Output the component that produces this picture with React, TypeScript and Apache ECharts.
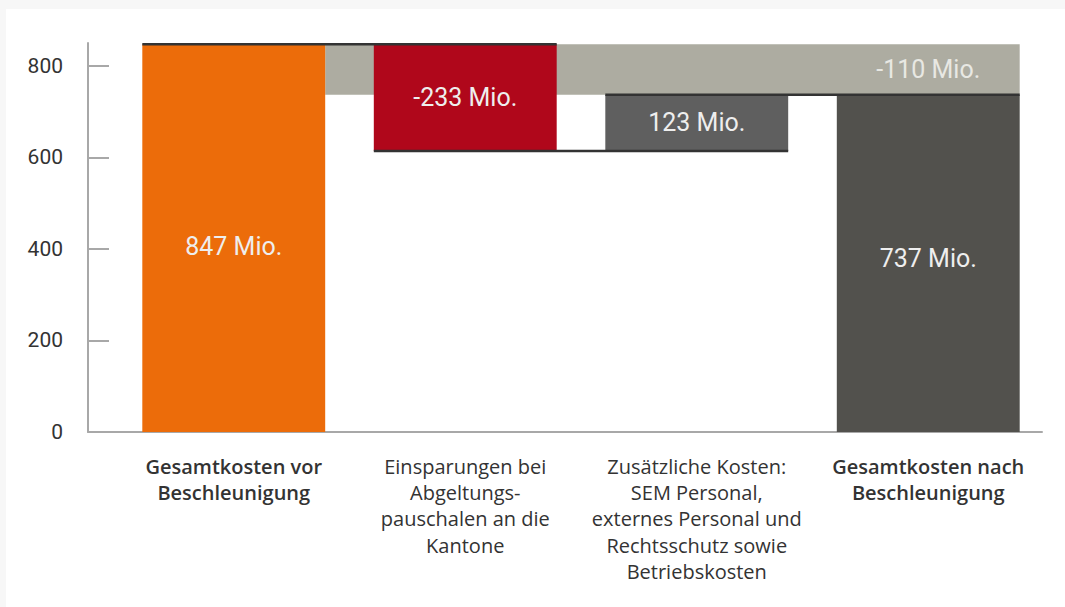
import React, { useEffect, useRef } from "react";
import * as echarts from "echarts";

const categories = [
  "Gesamtkosten vor\nBeschleunigung",
  "Einsparungen bei\nAbgeltungs-\npauschalen an die\nKantone",
  "Zusätzliche Kosten:\nSEM Personal,\nexternes Personal und\nRechtsschutz sowie\nBetriebskosten",
  "Gesamtkosten nach\nBeschleunigung",
];
const boldCategories = [true, false, false, true];
const kinds = ["total", "change", "change", "total"];
const values = [847, -233, 123, 737];
const totalChange = -110;
const barColors = ["#ec6c0a", "#b0071b", "#5f5f5f", "#52514d"];
const labelOffsets = [[0, 8], [0, 0], [0, 0], [0, -5]];
const yTicks = [0, 200, 400, 600, 800];

const FONT = "Roboto, 'DejaVu Sans', sans-serif";
const CAT_FONT = "'Open Sans', Roboto, sans-serif";

export default function App() {
  const ref = useRef<HTMLDivElement>(null);

  useEffect(() => {
    if (!ref.current) return;
    const chart = echarts.init(ref.current, null, { renderer: "svg" });

    const base: number[] = [];
    const visible: number[] = [];
    const levels: number[] = [];
    let running = 0;
    values.forEach((v, i) => {
      if (kinds[i] === "total") {
        base.push(0);
        visible.push(v);
        running = v;
      } else {
        const next = running + v;
        base.push(Math.min(running, next));
        visible.push(Math.abs(v));
        running = next;
      }
      levels.push(running);
    });

    const barRatio = 0.79;

    const option: any = {
      animation: false,
      textStyle: { fontFamily: FONT },
      grid: [
        { left: 88, right: 23, top: 43, bottom: 175 },
        { left: 118, right: 21, top: 43, bottom: 175 },
      ],
      xAxis: [
        {
          type: "value",
          gridIndex: 0,
          min: 0,
          max: 1,
          axisLine: { show: true, lineStyle: { color: "#a8a8a8", width: 2 } },
          axisTick: { show: false },
          axisLabel: { show: false },
          splitLine: { show: false },
        },
        {
          type: "category",
          gridIndex: 1,
          data: categories.map((c, i) => ({
            value: c,
            textStyle: { fontWeight: boldCategories[i] ? 600 : "normal" },
          })),
          axisLine: { show: false },
          axisTick: { show: false },
          axisLabel: {
            interval: 0,
            margin: 21,
            fontSize: 20,
            lineHeight: 26.3,
            color: "#333333",
            fontFamily: CAT_FONT,
          },
        },
      ],
      yAxis: [
        {
          type: "value",
          gridIndex: 0,
          min: 0,
          max: 850,
          interval: 200,
          axisLine: { show: true, lineStyle: { color: "#a8a8a8", width: 2 } },
          axisTick: {
            show: true,
            inside: true,
            length: 21,
            lineStyle: { color: "#a8a8a8", width: 2 },
            customValues: yTicks,
          },
          axisLabel: {
            fontSize: 21,
            color: "#333333",
            margin: 25,
            fontFamily: FONT,
            customValues: yTicks,
          },
          splitLine: { show: false },
        },
        {
          type: "value",
          gridIndex: 1,
          min: 0,
          max: 850,
          show: false,
          splitLine: { show: false },
        },
      ],
      series: [
        {
          type: "custom",
          name: "band",
          xAxisIndex: 1,
          yAxisIndex: 1,
          z: 1,
          data: [[0, values[0], values.length - 1, levels[levels.length - 1], totalChange]],
          encode: { x: 0, y: 1 },
          renderItem: (params: any, api: any) => {
            const bw = api.size([1, 0])[0] * barRatio;
            const p1 = api.coord([api.value(0), api.value(1)]);
            const p2 = api.coord([api.value(2), api.value(3)]);
            const x1 = p1[0] + bw / 2;
            const x2 = p2[0] + bw / 2;
            return {
              type: "group",
              children: [
                {
                  type: "rect",
                  shape: { x: x1, y: p1[1], width: x2 - x1, height: p2[1] - p1[1] },
                  style: { fill: "#adaca1" },
                },
                {
                  type: "text",
                  style: {
                    text: `${api.value(4)} Mio.`,
                    x: p2[0],
                    y: (p1[1] + p2[1]) / 2,
                    align: "center",
                    verticalAlign: "middle",
                    fill: "#e8e8e3",
                    fontSize: 25,
                    fontFamily: FONT,
                  },
                },
              ],
            };
          },
        },
        {
          type: "bar",
          xAxisIndex: 1,
          yAxisIndex: 1,
          stack: "wf",
          barWidth: barRatio * 100 + "%",
          z: 2,
          itemStyle: { color: "transparent" },
          emphasis: { disabled: true },
          data: base,
        },
        {
          type: "bar",
          xAxisIndex: 1,
          yAxisIndex: 1,
          stack: "wf",
          barWidth: barRatio * 100 + "%",
          z: 2,
          emphasis: { disabled: true },
          data: visible.map((v, i) => ({
            value: v,
            itemStyle: { color: barColors[i] },
            label: {
              show: true,
              position: "inside",
              offset: labelOffsets[i],
              formatter: () => `${values[i]} Mio.`,
              color: "#eeeeee",
              fontSize: 25,
              fontFamily: FONT,
            },
          })),
        },
        {
          type: "custom",
          name: "connectors",
          xAxisIndex: 1,
          yAxisIndex: 1,
          z: 5,
          data: levels.slice(0, levels.length - 1).map((l, i) => [i, l]),
          encode: { x: 0, y: 1 },
          renderItem: (params: any, api: any) => {
            const bw = api.size([1, 0])[0] * barRatio;
            const i = api.value(0);
            const p1 = api.coord([i, api.value(1)]);
            const p2 = api.coord([i + 1, api.value(1)]);
            return {
              type: "line",
              shape: { x1: p1[0] - bw / 2, y1: p1[1], x2: p2[0] + bw / 2, y2: p2[1] },
              style: { stroke: "#333333", lineWidth: 2.5 },
            };
          },
        },
      ],
    };

    chart.setOption(option);
    return () => chart.dispose();
  }, []);

  return (
    <div style={{ position: "fixed", left: 0, top: 0, width: 1065, height: 607, background: "#f7f7f7" }}>
      <div style={{ position: "absolute", left: 6, top: 9, right: 0, bottom: 0, background: "#ffffff" }} />
      <div ref={ref} style={{ position: "absolute", left: 0, top: 0, width: 1065, height: 607 }} />
    </div>
  );
}
